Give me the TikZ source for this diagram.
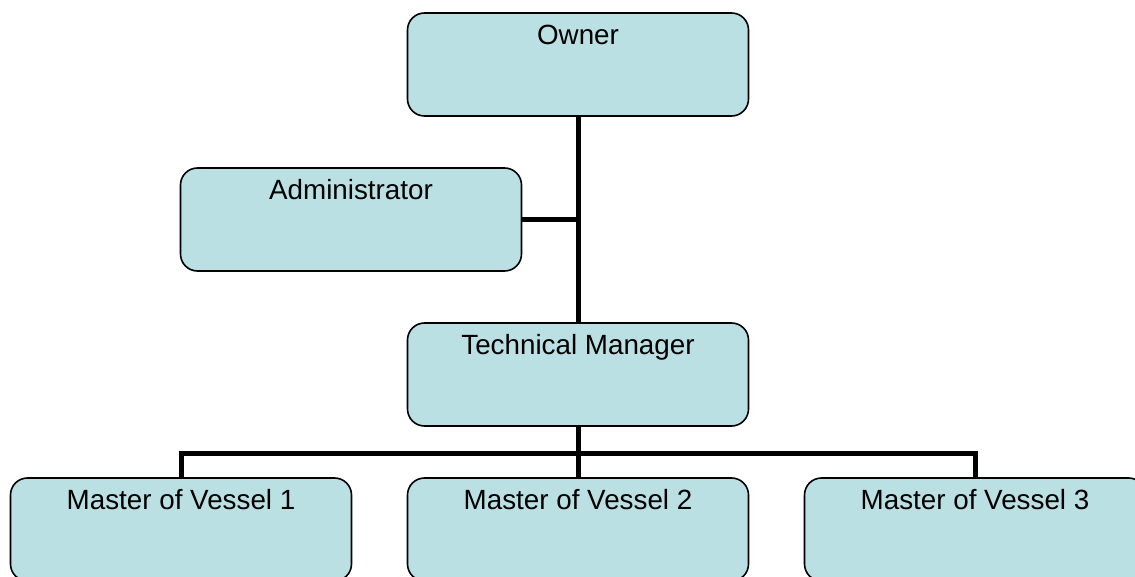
\documentclass[tikz,border=0pt]{standalone}
\usepackage{fontspec}
\setmainfont{Liberation Sans}
\definecolor{boxfill}{RGB}{187,224,227}
\begin{document}
\begin{tikzpicture}[x=1pt,y=-1pt,
  orgbox/.style={draw=black, line width=1.6pt, fill=boxfill, rounded corners=17pt,
    minimum width=341pt, minimum height=103pt, inner sep=0pt},
  boxtext/.style={anchor=base, font=\fontsize{27.8}{32}\selectfont, inner sep=0pt},
  link/.style={line width=5pt}]
\useasboundingbox (0,0) rectangle (1135,577);

% junction points of the tree
\coordinate (bus) at (578,453);
\coordinate (adminjoin) at (578,219.5);

% boxes
\node[orgbox] (owner) at (578,64.5) {};
\node[orgbox] (admin) at (351,219.5) {};
\node[orgbox] (tech)  at (578,374.5) {};
\node[orgbox] (m1)    at (181,529.5) {};
\node[orgbox] (m2)    at (578,529.5) {};
\node[orgbox] (m3)    at (975,529.5) {};

% connectors
\draw[link] (owner.south) -- (tech.north);
\draw[link] (admin.east) -- (adminjoin);
\draw[link] (tech.south) -- (bus);
\draw[link] (m1.north) |- (bus);
\draw[link] (bus) -| (m3.north);
\draw[link] (bus) -- (m2.north);

% labels, set near the top of each box
\node[boxtext] (ownerlbl) at ([yshift=-32pt]owner.north) {Owner};
\node[boxtext] (adminlbl) at ([yshift=-32pt]admin.north) {Administrator};
\node[boxtext] (techlbl)  at ([yshift=-32pt]tech.north)  {Technical Manager};
\node[boxtext] (m1lbl)    at ([yshift=-32pt]m1.north)    {Master of Vessel 1};
\node[boxtext] (m2lbl)    at ([yshift=-32pt]m2.north)    {Master of Vessel 2};
\node[boxtext] (m3lbl)    at ([yshift=-32pt]m3.north)    {Master of Vessel 3};
\end{tikzpicture}
\end{document}
